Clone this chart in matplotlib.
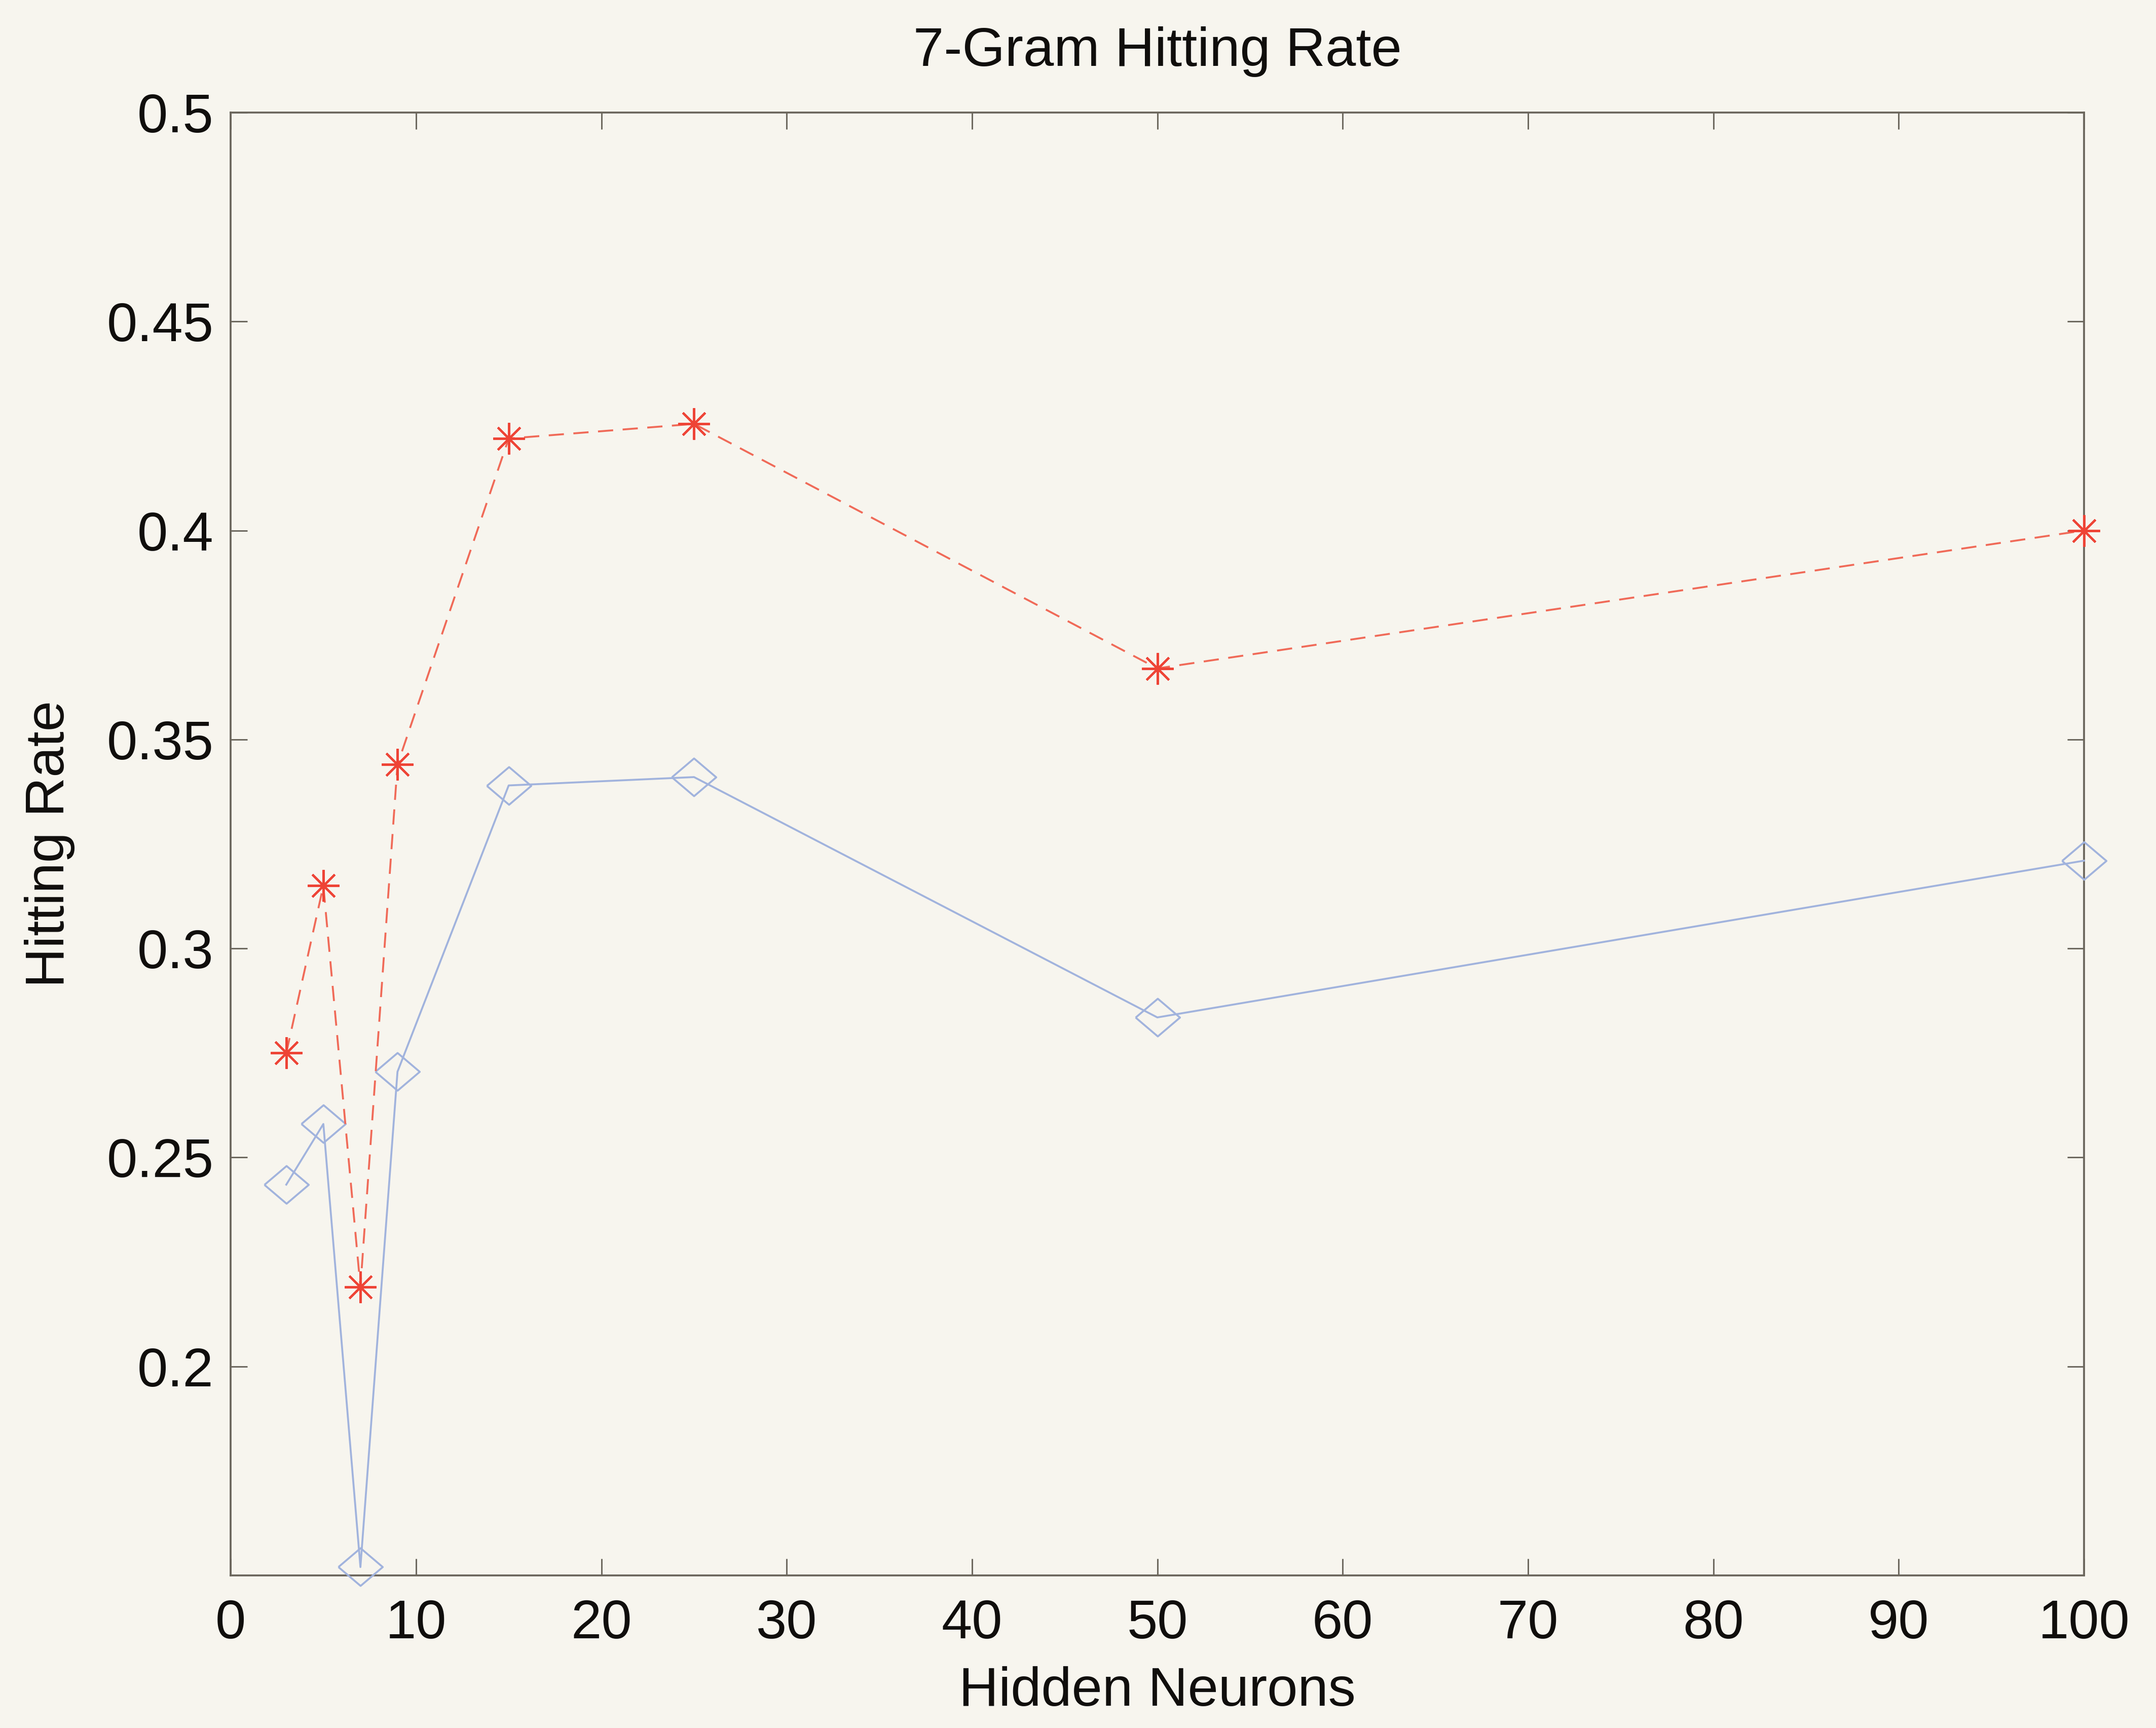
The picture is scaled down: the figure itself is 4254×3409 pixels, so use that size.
import matplotlib
matplotlib.use("Agg")
import matplotlib.pyplot as plt

# Hidden-neuron counts tested
hidden_neurons = [3, 5, 7, 9, 15, 25, 50, 100]

# Hitting rate per configuration (two runs)
rate_star = [0.275, 0.315, 0.219, 0.344, 0.422, 0.4255, 0.367, 0.400]
rate_diamond = [0.2435, 0.258, 0.152, 0.2705, 0.339, 0.341, 0.2835, 0.321]

x_ticks = [0, 10, 20, 30, 40, 50, 60, 70, 80, 90, 100]
y_ticks = [0.2, 0.25, 0.3, 0.35, 0.4, 0.45, 0.5]
y_tick_labels = ["0.2", "0.25", "0.3", "0.35", "0.4", "0.45", "0.5"]

paper = "#f7f5ee"
ink = "#100e0c"
spine_col = "#6b665c"

plt.rcParams["font.family"] = ["Liberation Sans", "DejaVu Sans"]

fig = plt.figure(figsize=(4254 / 300, 3409 / 300), dpi=300, facecolor=paper)
ax = fig.add_axes([0.107, 0.0883, 0.8596, 0.8466], facecolor=paper)

# MATLAB-style hollow diamond, a touch wider than tall
diamond = [(-1, 0), (0, 0.85), (1, 0), (0, -0.85), (-1, 0)]

ax.plot(hidden_neurons, rate_diamond, color="#a1b3dd", lw=0.9, ls="-",
        marker=diamond, markersize=21, markerfacecolor="none",
        markeredgecolor="#a1b3dd", markeredgewidth=0.9, zorder=3,
        clip_on=False)
ax.plot(hidden_neurons, rate_star, color="#f06a58", lw=0.9,
        dashes=(8, 5), marker=(8, 2, 0), markersize=15,
        markeredgecolor="#ee4436", markeredgewidth=1.0, zorder=4,
        clip_on=False)

ax.set_xlim(0, 100)
ax.set_ylim(0.15, 0.5)
ax.set_xticks(x_ticks)
ax.set_yticks(y_ticks)
ax.set_yticklabels(y_tick_labels)

ax.tick_params(direction="in", length=8, width=0.7, color=spine_col,
               top=True, right=True, labelsize=26, labelcolor=ink)
ax.tick_params(axis="x", pad=11)
ax.tick_params(axis="y", pad=8)
for s in ax.spines.values():
    s.set_color(spine_col)
    s.set_linewidth(0.9)

ax.set_title("7-Gram Hitting Rate", fontsize=26, color=ink, pad=22)
ax.set_xlabel("Hidden Neurons", fontsize=26, color=ink, labelpad=8)
ax.set_ylabel("Hitting Rate", fontsize=26, color=ink, labelpad=15)

fig.savefig("out.png", dpi=300, facecolor=paper)
